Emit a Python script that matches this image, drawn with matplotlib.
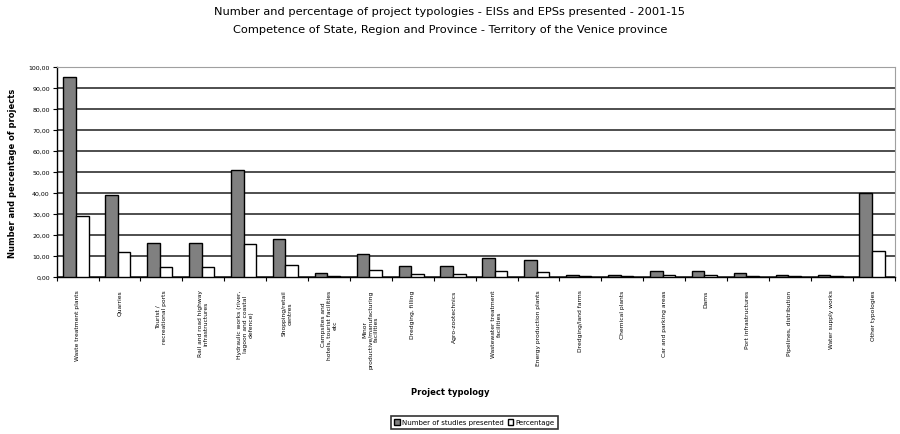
import numpy as np
import matplotlib
matplotlib.use("Agg")
import matplotlib.pyplot as plt

categories = [
    "Waste treatment plants",
    "Quarries",
    "Tourist /\nrecreational ports",
    "Rail and road highway\ninfrastructures",
    "Hydraulic works (river,\nlagoon and coastal\ndefence)",
    "Shopping/retail\ncentres",
    "Campsites and\nhotels, tourist facilities\netc",
    "Minor\nproductive/manufacturing\nfacilities",
    "Dredging, filling",
    "Agro-zootechnics",
    "Wastewater treatment\nfacilities",
    "Energy production plants",
    "Dredging/land farms",
    "Chemical plants",
    "Car and parking areas",
    "Dams",
    "Port infrastructures",
    "Pipelines, distribution",
    "Water supply works",
    "Other typologies",
]
n_studies = [95, 39, 16, 16, 51, 18, 2, 11, 5, 5, 9, 8, 1, 1, 3, 3, 2, 1, 1, 40]
percentage = [29.05, 11.93, 4.89, 4.89, 15.60, 5.50, 0.61, 3.36, 1.53, 1.53,
              2.75, 2.45, 0.31, 0.31, 0.92, 0.92, 0.61, 0.31, 0.31, 12.23]
y_ticks = [0, 10, 20, 30, 40, 50, 60, 70, 80, 90, 100]

fig = plt.figure(figsize=(9, 4.35), dpi=100)
ax = fig.add_axes([0.063, 0.361, 0.931, 0.483])

x = np.arange(len(categories))
w = 0.3
ax.bar(x - 0.34 + w / 2, n_studies, w, color="#808080", edgecolor="black",
       linewidth=1.0, label="Number of studies presented", zorder=3)
ax.bar(x - 0.34 + 1.5 * w, percentage, w, color="white", edgecolor="black",
       linewidth=1.0, label="Percentage", zorder=3)

ax.set_xlim(-0.5, len(categories) - 0.5)
ax.set_ylim(0, 100)
ax.set_yticks(y_ticks)
ax.set_yticklabels([f"{v:.2f}".replace(".", ",") for v in y_ticks], fontsize=4.5)
ax.yaxis.grid(True, color="#404040", linewidth=1.3, zorder=0)
ax.set_axisbelow(True)

ax.set_xticks(np.arange(len(categories) + 1) - 0.5, minor=False)
ax.set_xticklabels([])
ax.tick_params(axis="x", length=3, width=0.8, direction="out")
ax.tick_params(axis="y", length=3, width=0.8, pad=2)
for xi, lab in zip(x, categories):
    ax.text(xi, -6, lab, rotation=90, ha="center", va="top", fontsize=4.3,
            multialignment="center", transform=ax.transData, clip_on=False)

for s in ["top", "right"]:
    ax.spines[s].set_color("#a0a0a0")
ax.spines["bottom"].set_linewidth(1.0)
ax.spines["left"].set_linewidth(1.0)

ax.set_ylabel("Number and percentage of projects", fontsize=6, fontweight="bold",
              labelpad=8)
fig.text(0.5, 0.092, "Project typology", ha="center", fontsize=6, fontweight="bold")
fig.text(0.5, 0.972, "Number and percentage of project typologies - EISs and EPSs presented - 2001-15",
         ha="center", va="center", fontsize=8.2)
fig.text(0.5, 0.932, "Competence of State, Region and Province - Territory of the Venice province",
         ha="center", va="center", fontsize=8.2)

leg = fig.legend(loc="center", bbox_to_anchor=(0.527, 0.027), ncol=2, fontsize=5,
                 frameon=True, fancybox=False, edgecolor="black", handlelength=0.8,
                 handleheight=0.8, handletextpad=0.3, columnspacing=0.6,
                 borderpad=0.5)
leg.get_frame().set_linewidth(1.2)

fig.savefig("out.png", dpi=100)
